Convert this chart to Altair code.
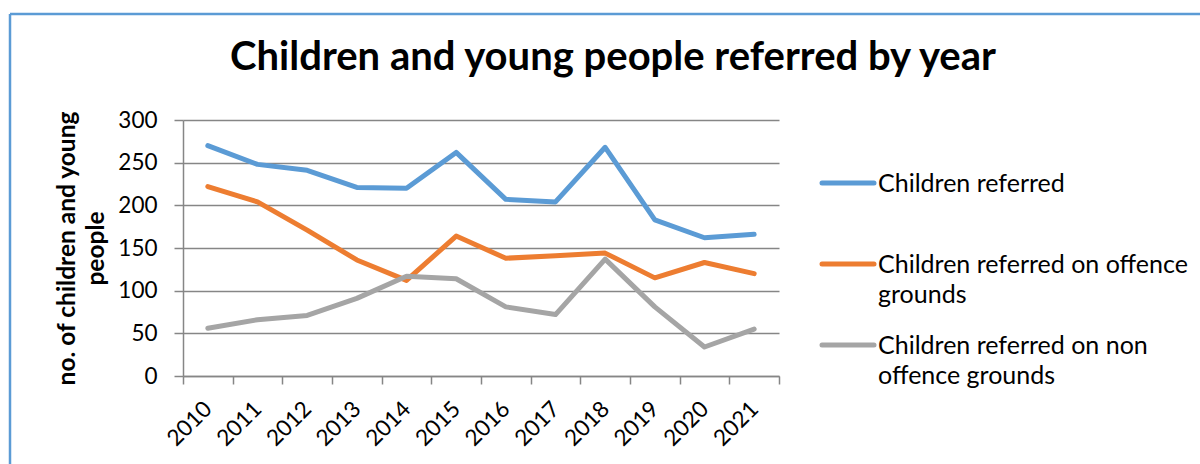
import altair as alt
import pandas as pd

# Referral counts per year
years = ["2010", "2011", "2012", "2013", "2014", "2015",
         "2016", "2017", "2018", "2019", "2020", "2021"]
referred = [270, 248, 241, 221, 220, 262, 207, 204, 268, 183, 162, 166]
offence = [222, 204, 171, 136, 112, 164, 138, 141, 144, 115, 133, 120]
non_offence = [56, 66, 71, 91, 117, 114, 81, 72, 137, 81, 34, 55]

series_names = [
    "Children referred",
    "Children referred on offence grounds",
    "Children referred on non offence grounds",
]
legend_labels = [
    "Children referred",
    "Children referred on offence\ngrounds",
    "Children referred on non\noffence grounds",
]
series_colors = ["#5B9BD5", "#ED7D31", "#A5A5A5"]
y_ticks = [0, 50, 100, 150, 200, 250, 300]
chart_title = "Children and young people referred by year"

rows = []
for name, vals in zip(series_names, [referred, offence, non_offence]):
    for yr, v in zip(years, vals):
        rows.append({"Year": yr, "Series": name, "Count": v})
df = pd.DataFrame(rows)
legend_df = pd.DataFrame({"Series": series_names, "Label": legend_labels})

FONT = "Lato"
GRID = "#868686"
BORDER = "#5B9BD5"

color_scale = alt.Scale(domain=series_names, range=series_colors)

lines = alt.Chart(df).mark_line(
    strokeWidth=5, strokeCap="round", strokeJoin="round"
).encode(
    x=alt.X(
        "Year:N", sort=years, bandPosition=0.5,
        scale=alt.Scale(type="band", paddingInner=0, paddingOuter=0),
        axis=alt.Axis(
            title=None, grid=False, tickBand="extent", tickSize=8,
            tickColor=GRID, tickWidth=1.5, domainColor=GRID, domainWidth=1.5,
            labelAngle=315, labelAlign="right", labelBaseline="middle",
            labelFontSize=22.5, labelFont=FONT, labelColor="#000000",
            labelPadding=21,
        ),
    ),
    y=alt.Y(
        "Count:Q",
        scale=alt.Scale(domain=[0, 300], nice=False),
        axis=alt.Axis(
            values=y_ticks, title=["no. of children and young", "people"],
            titleFont=FONT, titleFontSize=24.5, titleFontWeight="bold",
            titleColor="#000000", titleLineHeight=29, titlePadding=9,
            grid=True, gridColor=GRID, gridWidth=1.5,
            tickSize=9, tickColor=GRID, tickWidth=1.5,
            domainColor=GRID, domainWidth=1.5,
            labelFont=FONT, labelFontSize=22.5, labelColor="#000000",
            labelPadding=17,
        ),
    ),
    color=alt.Color("Series:N", scale=color_scale, legend=None),
)

# Legend: a short line swatch beside each series name
legend_y = alt.Y(
    "Series:N", sort=series_names, axis=None,
    scale=alt.Scale(type="point", domain=series_names, range=[63, 225], padding=0),
)
legend_swatch = alt.Chart(legend_df).mark_rule(
    strokeWidth=5, strokeCap="round"
).encode(
    x=alt.value(639), x2=alt.value(691), y=legend_y,
    color=alt.Color("Series:N", scale=color_scale, legend=None),
)
legend_text = alt.Chart(legend_df).mark_text(
    align="left", baseline="top", dy=-11, font=FONT, fontSize=25,
    color="#000000", lineBreak="\n", lineHeight=30,
).encode(x=alt.value(695), y=legend_y, text="Label:N")

# Chart heading and the frame's top and left edges
one_row = pd.DataFrame({"k": [0]})
heading = alt.Chart(one_row).mark_text(
    text=chart_title, font=FONT, fontSize=40, fontWeight="bold",
    color="#000000", align="center", baseline="alphabetic",
).encode(x=alt.value(430), y=alt.value(-50))
frame_top = alt.Chart(one_row).mark_rule(color=BORDER, strokeWidth=2.5).encode(
    x=alt.value(-173), x2=alt.value(1020), y=alt.value(-106)
)
frame_left = alt.Chart(one_row).mark_rule(color=BORDER, strokeWidth=2.5).encode(
    x=alt.value(-173), y=alt.value(-106), y2=alt.value(350)
)

chart = alt.layer(
    lines, legend_swatch, legend_text, heading, frame_top, frame_left
).resolve_scale(y="independent").properties(
    width=596,
    height=256,
    padding={"left": 183, "top": 120, "right": 421, "bottom": 88},
    autosize=alt.AutoSizeParams(type="none"),
    background="#ffffff",
).configure_view(strokeWidth=0)

chart.save("out.html", embed_options={"renderer": "svg", "actions": False})
